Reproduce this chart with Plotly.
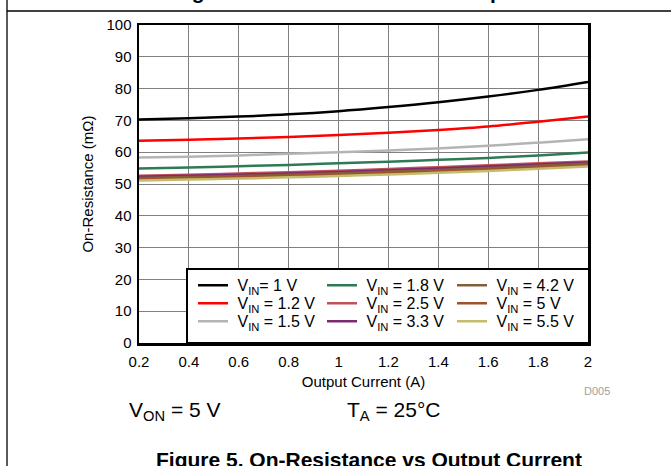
import plotly.graph_objects as go

# ---------------- data ----------------
current_a = [0.2, 0.4, 0.6, 0.8, 1.0, 1.2, 1.4, 1.6, 1.8, 2.0]

vin_labels = ["V<sub>IN</sub>= 1 V", "V<sub>IN</sub> = 1.2 V", "V<sub>IN</sub> = 1.5 V",
              "V<sub>IN</sub> = 1.8 V", "V<sub>IN</sub> = 2.5 V", "V<sub>IN</sub> = 3.3 V",
              "V<sub>IN</sub> = 4.2 V", "V<sub>IN</sub> = 5 V", "V<sub>IN</sub> = 5.5 V"]

ron_1v0 = [70.3, 70.7, 71.2, 71.9, 72.9, 74.2, 75.7, 77.5, 79.6, 82.1]
ron_1v2 = [63.6, 63.9, 64.3, 64.8, 65.4, 66.1, 67.0, 68.1, 69.6, 71.2]
ron_1v5 = [58.3, 58.6, 59.0, 59.5, 60.0, 60.5, 61.2, 62.0, 63.0, 64.1]
ron_1v8 = [54.9, 55.2, 55.6, 56.0, 56.5, 57.0, 57.6, 58.2, 59.0, 59.9]
ron_2v5 = [52.6, 52.9, 53.3, 53.7, 54.2, 54.7, 55.3, 55.9, 56.5, 57.1]
ron_3v3 = [52.3, 52.6, 52.9, 53.3, 53.8, 54.3, 54.9, 55.5, 56.1, 56.8]
ron_4v2 = [51.9, 52.2, 52.5, 52.9, 53.4, 53.9, 54.4, 55.0, 55.7, 56.4]
ron_5v0 = [51.6, 51.9, 52.2, 52.6, 53.0, 53.5, 54.0, 54.6, 55.3, 56.0]
ron_5v5 = [51.1, 51.4, 51.7, 52.1, 52.5, 53.0, 53.5, 54.1, 54.8, 55.5]

series = [ron_1v0, ron_1v2, ron_1v5, ron_1v8, ron_2v5, ron_3v3, ron_4v2, ron_5v0, ron_5v5]
colors = ["#000000", "#ff0000", "#b4b4b4", "#2e7a55", "#c0505a", "#7a2a70",
          "#80603a", "#a0522d", "#c4bc6c"]

# ---------------- geometry helpers ----------------
W, H = 671, 466
L, R, T, B = 139, 588, 25, 343
FONT = "Arial, Liberation Sans, sans-serif"


def px(x):
    return (x - L) / (R - L)


def py(y):
    return (B - y) / (B - T)


# legend grid (column-major, 3 x 3)
leg_cols = [193, 322, 452]
leg_rows = [287, 305, 323]
LEG_FONT = 16
leg_center_off = 18.7
NBSP = "\u00a0"

fig = go.Figure()
layout_legends = {}
for i, (name, ys, col) in enumerate(zip(vin_labels, series, colors)):
    lid = "legend" if i == 0 else f"legend{i + 1}"
    fig.add_trace(go.Scatter(x=current_a, y=ys, name=NBSP + name, mode="lines",
                             line=dict(color=col, width=2.5, shape="spline"),
                             legend=lid, showlegend=True))
    c, r = divmod(i, 3)
    layout_legends[lid] = dict(
        x=px(leg_cols[c]), y=py(leg_rows[r] - leg_center_off),
        xanchor="left", yanchor="top", orientation="v",
        bgcolor="rgba(0,0,0,0)", borderwidth=0,
        font=dict(family=FONT, size=LEG_FONT, color="black"),
        itemwidth=30, tracegroupgap=0,
        itemclick=False, itemdoubleclick=False)

axis_common = dict(showline=True, linecolor="black", linewidth=2.5, mirror=True,
                   showgrid=True, gridcolor="#808080", gridwidth=1,
                   zeroline=False, ticks="",
                   tickfont=dict(family=FONT, size=15, color="black"),
                   automargin=False)

fig.update_xaxes(range=[0.2, 2.0], dtick=0.2, tick0=0.2, ticklabelstandoff=3,
                 title=dict(text="Output Current (A)", standoff=8,
                            font=dict(family=FONT, size=15, color="black")),
                 **axis_common)
fig.update_yaxes(range=[0, 100], dtick=10, ticklabelstandoff=2,
                 title=dict(text="On-Resistance (mΩ)", standoff=9,
                            font=dict(family=FONT, size=15, color="black")),
                 **axis_common)

shapes = [
    # legend box
    dict(type="rect", xref="paper", yref="paper", x0=px(187), x1=px(589),
         y0=py(343), y1=py(269), fillcolor="white",
         line=dict(color="black", width=2), layer="above"),
    # page frame lines
    dict(type="line", xref="paper", yref="paper", x0=px(7), x1=px(7),
         y0=py(-5), y1=py(475), line=dict(color="black", width=1.3)),
    dict(type="line", xref="paper", yref="paper", x0=px(7), x1=px(680),
         y0=py(11), y1=py(11), line=dict(color="black", width=1.3)),
]

annotations = [
    dict(text="D005", x=px(597), y=py(391), xref="paper", yref="paper",
         xanchor="center", yanchor="middle", showarrow=False,
         font=dict(family=FONT, size=11, color="#a0a0a0")),
    dict(text="V<sub>ON</sub> = 5 V", x=px(127), y=py(411), xref="paper", yref="paper",
         xanchor="left", yanchor="middle", showarrow=False,
         font=dict(family=FONT, size=21, color="black")),
    dict(text="T<sub>A</sub> = 25°C", x=px(345), y=py(411), xref="paper", yref="paper",
         xanchor="left", yanchor="middle", showarrow=False,
         font=dict(family=FONT, size=21, color="black")),
    dict(text="<b>Figure 5. On-Resistance vs Output Current</b>", x=px(154), y=py(459),
         xref="paper", yref="paper", xanchor="left", yanchor="middle", showarrow=False,
         font=dict(family=FONT, size=21, color="black")),
    dict(text="<b>Figure 4. On-Resistance vs Temperature</b>", x=px(171), y=py(-9),
         xref="paper", yref="paper", xanchor="left", yanchor="middle", showarrow=False,
         font=dict(family=FONT, size=21, color="black")),
]

fig.update_layout(
    width=W, height=H,
    margin=dict(l=L, r=W - R, t=T, b=H - B, pad=0),
    paper_bgcolor="white", plot_bgcolor="white",
    font=dict(family=FONT, color="black"),
    shapes=shapes, annotations=annotations,
    **layout_legends,
)

fig.write_html("out.html", config=dict(displayModeBar=False, staticPlot=True),
               post_script="document.body.style.margin='0';document.body.style.overflow='hidden';")
